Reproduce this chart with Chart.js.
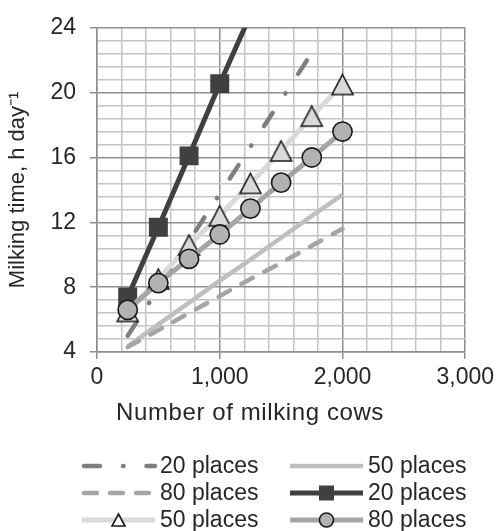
<!DOCTYPE html>
<html>
<head>
<meta charset="utf-8">
<script src="https://cdn.jsdelivr.net/npm/chart.js@4/dist/chart.umd.min.js"></script>
<style>
  html, body { margin: 0; padding: 0; background: #ffffff; }
  #wrap { width: 499px; height: 531px; position: relative; }
</style>
</head>
<body>
<div id="wrap"><canvas id="chart" width="499" height="531"></canvas></div>
<script>
// Herd size on the x axis (number of milking cows)
const cows = [250, 500, 750, 1000, 1250, 1500, 1750, 2000];

// Series labels (calculated lines first, then measured lines with markers)
const seriesLabels = ['20 places', '50 places', '80 places', '20 places', '50 places', '80 places'];

// Calculated milking time, h/day
const calc20 = [5.0, 7.9, 10.85, 13.75, 16.65, 19.55, 22.45];
const calc50 = [4.35, 5.7, 7.05, 8.4, 9.7, 11.05, 12.4, 13.7];
const calc80 = [4.3, 5.35, 6.4, 7.45, 8.5, 9.5, 10.55, 11.6];

// Measured milking time, h/day
const meas20 = [7.4, 11.7, 16.1, 20.55, 24.8];
const meas50 = [6.5, 8.5, 10.6, 12.4, 14.4, 16.4, 18.55, 20.5];
const meas80 = [6.6, 8.25, 9.75, 11.25, 12.85, 14.45, 16.0, 17.6];

// Axis tick values and titles
const xMajorTicks = [0, 1000, 2000, 3000];
const yMajorTicks = [4, 8, 12, 16, 20, 24];
const xTitle = 'Number of milking cows';
const yTitle = 'Milking time, h day\u207B\u00B9';

const FONT = "'Liberation Sans', Arial, sans-serif";
const TEXT = '#262626';

function pairs(values) {
  return values.map((v, i) => ({ x: cows[i], y: v }));
}

// Isosceles triangle marker drawn into its own small canvas
function triangleMarker(w, h, fill, stroke, lw) {
  const c = document.createElement('canvas');
  const pad = Math.ceil(lw);
  c.width = w + pad * 2;
  c.height = h + pad * 2;
  const g = c.getContext('2d');
  g.beginPath();
  g.moveTo(c.width / 2, pad);
  g.lineTo(pad + w, pad + h);
  g.lineTo(pad, pad + h);
  g.closePath();
  g.fillStyle = fill;
  g.fill();
  g.lineWidth = lw;
  g.strokeStyle = stroke;
  g.stroke();
  return c;
}

const triBig = triangleMarker(21, 20, '#d9d9d9', '#1a1a1a', 1.6);
const triSmall = triangleMarker(13, 12, '#ffffff', '#1a1a1a', 1.6);

const isMultiple = (v, m) => Math.abs(v / m - Math.round(v / m)) < 1e-6;

const datasets = [
  { label: seriesLabels[0], data: pairs(calc20), borderColor: '#7f7f7f', borderWidth: 4.5,
    borderDash: [16, 23, 0.5, 23], borderCapStyle: 'round', pointRadius: 0, order: 6 },
  { label: seriesLabels[1], data: pairs(calc50), borderColor: '#bfbfbf', borderWidth: 4.5,
    pointRadius: 0, order: 5 },
  { label: seriesLabels[2], data: pairs(calc80), borderColor: '#a5a5a5', borderWidth: 4.5,
    borderDash: [13, 13], borderCapStyle: 'round', pointRadius: 0, order: 4 },
  { label: seriesLabels[3], data: pairs(meas20), borderColor: '#404040', borderWidth: 5,
    pointStyle: 'rect', pointRadius: 13.4, pointBackgroundColor: '#404040',
    pointBorderColor: '#404040', pointBorderWidth: 0, order: 3, legendMarker: 'square' },
  { label: seriesLabels[4], data: pairs(meas50), borderColor: '#d9d9d9', borderWidth: 5,
    pointStyle: triBig, pointRadius: 11, order: 2, legendMarker: 'triangle' },
  { label: seriesLabels[5], data: pairs(meas80), borderColor: '#a5a5a5', borderWidth: 5,
    pointStyle: 'circle', pointRadius: 9.6, pointBackgroundColor: '#b2b2b2',
    pointBorderColor: '#1a1a1a', pointBorderWidth: 1.6, order: 1, legendMarker: 'circle' }
];

// x-axis title centred under the figure, and a two-column legend below it
const gridLegend = {
  id: 'gridLegend',
  afterDraw(chart) {
    const ctx = chart.ctx;
    ctx.save();
    ctx.fillStyle = TEXT;
    ctx.font = '24px ' + FONT;
    if ('letterSpacing' in ctx) ctx.letterSpacing = '0.6px';
    ctx.textBaseline = 'middle';
    ctx.textAlign = 'center';
    ctx.fillText(xTitle, 250, 413);
    if ('letterSpacing' in ctx) ctx.letterSpacing = '0px';

    const colX = [82, 290];
    const sampleW = 73;
    const rowY = [466, 493, 520];
    datasets.forEach((ds, i) => {
      const col = i % 2, row = Math.floor(i / 2);
      const x0 = colX[col], x1 = x0 + sampleW, y = rowY[row];
      ctx.beginPath();
      ctx.setLineDash(ds.borderDash || []);
      ctx.lineCap = ds.borderCapStyle || 'butt';
      ctx.lineWidth = ds.borderWidth;
      ctx.strokeStyle = ds.borderColor;
      ctx.moveTo(x0 + (ds.borderDash ? 2 : 0), y);
      ctx.lineTo(x1, y);
      ctx.stroke();
      ctx.setLineDash([]);
      const cx = (x0 + x1) / 2;
      if (ds.legendMarker === 'square') {
        ctx.fillStyle = '#404040';
        ctx.fillRect(cx - 7.5, y - 7.5, 15, 15);
      } else if (ds.legendMarker === 'triangle') {
        ctx.drawImage(triSmall, cx - triSmall.width / 2, y - triSmall.height / 2);
      } else if (ds.legendMarker === 'circle') {
        ctx.beginPath();
        ctx.arc(cx, y, 7, 0, Math.PI * 2);
        ctx.fillStyle = '#b2b2b2';
        ctx.fill();
        ctx.lineWidth = 1.6;
        ctx.strokeStyle = '#1a1a1a';
        ctx.stroke();
      }
      ctx.fillStyle = TEXT;
      ctx.font = '23px ' + FONT;
      ctx.textAlign = 'left';
      ctx.fillText(ds.label, x1 + 5, y + 1);
    });
    ctx.restore();
  }
};

new Chart(document.getElementById('chart'), {
  type: 'line',
  data: { datasets },
  plugins: [gridLegend],
  options: {
    responsive: false,
    animation: false,
    events: [],
    layout: { padding: { left: 0, top: 22, right: 30, bottom: 99 } },
    plugins: { legend: { display: false }, tooltip: { enabled: false } },
    elements: { line: { tension: 0, fill: false } },
    scales: {
      x: {
        type: 'linear',
        min: 0, max: 3000,
        afterBuildTicks(scale) {
          const t = [];
          for (let v = 0; v <= 3000; v += 200) t.push({ value: v });
          scale.ticks = t;
        },
        afterFit(scale) { scale.height = 80; },
        ticks: {
          autoSkip: false, maxRotation: 0, padding: 5,
          color: TEXT, font: { family: FONT, size: 23 },
          callback: v => xMajorTicks.includes(v) ? v.toLocaleString('en-US') : ''
        },
        grid: {
          lineWidth: 1.5,
          tickLength: 7,
          color: c => isMultiple(c.tick.value, 1000) ? '#8f8f8f' : '#c4c4c4',
          tickColor: c => isMultiple(c.tick.value, 1000) ? '#8f8f8f' : 'rgba(0,0,0,0)'
        },
        border: { color: '#8f8f8f', width: 1.5 }
      },
      y: {
        type: 'linear',
        min: 4, max: 24,
        afterBuildTicks(scale) {
          const t = [];
          for (let i = 0; i <= 25; i++) t.push({ value: Math.round((4 + i * 0.8) * 10) / 10 });
          scale.ticks = t;
        },
        afterFit(scale) { scale.width = 97; },
        ticks: {
          autoSkip: false, padding: 14,
          color: TEXT, font: { family: FONT, size: 23 },
          callback: v => yMajorTicks.some(m => Math.abs(m - v) < 1e-6) ? String(Math.round(v)) : ''
        },
        grid: {
          lineWidth: 1.5,
          tickLength: 7,
          color: c => isMultiple(c.tick.value, 4) ? '#8f8f8f' : '#c4c4c4',
          tickColor: c => isMultiple(c.tick.value, 4) ? '#8f8f8f' : 'rgba(0,0,0,0)'
        },
        border: { color: '#8f8f8f', width: 1.5 },
        title: {
          display: true, text: yTitle, color: TEXT,
          font: { family: FONT, size: 22 }, padding: { top: 5, bottom: 2 }
        }
      }
    }
  }
});
</script>
</body>
</html>
